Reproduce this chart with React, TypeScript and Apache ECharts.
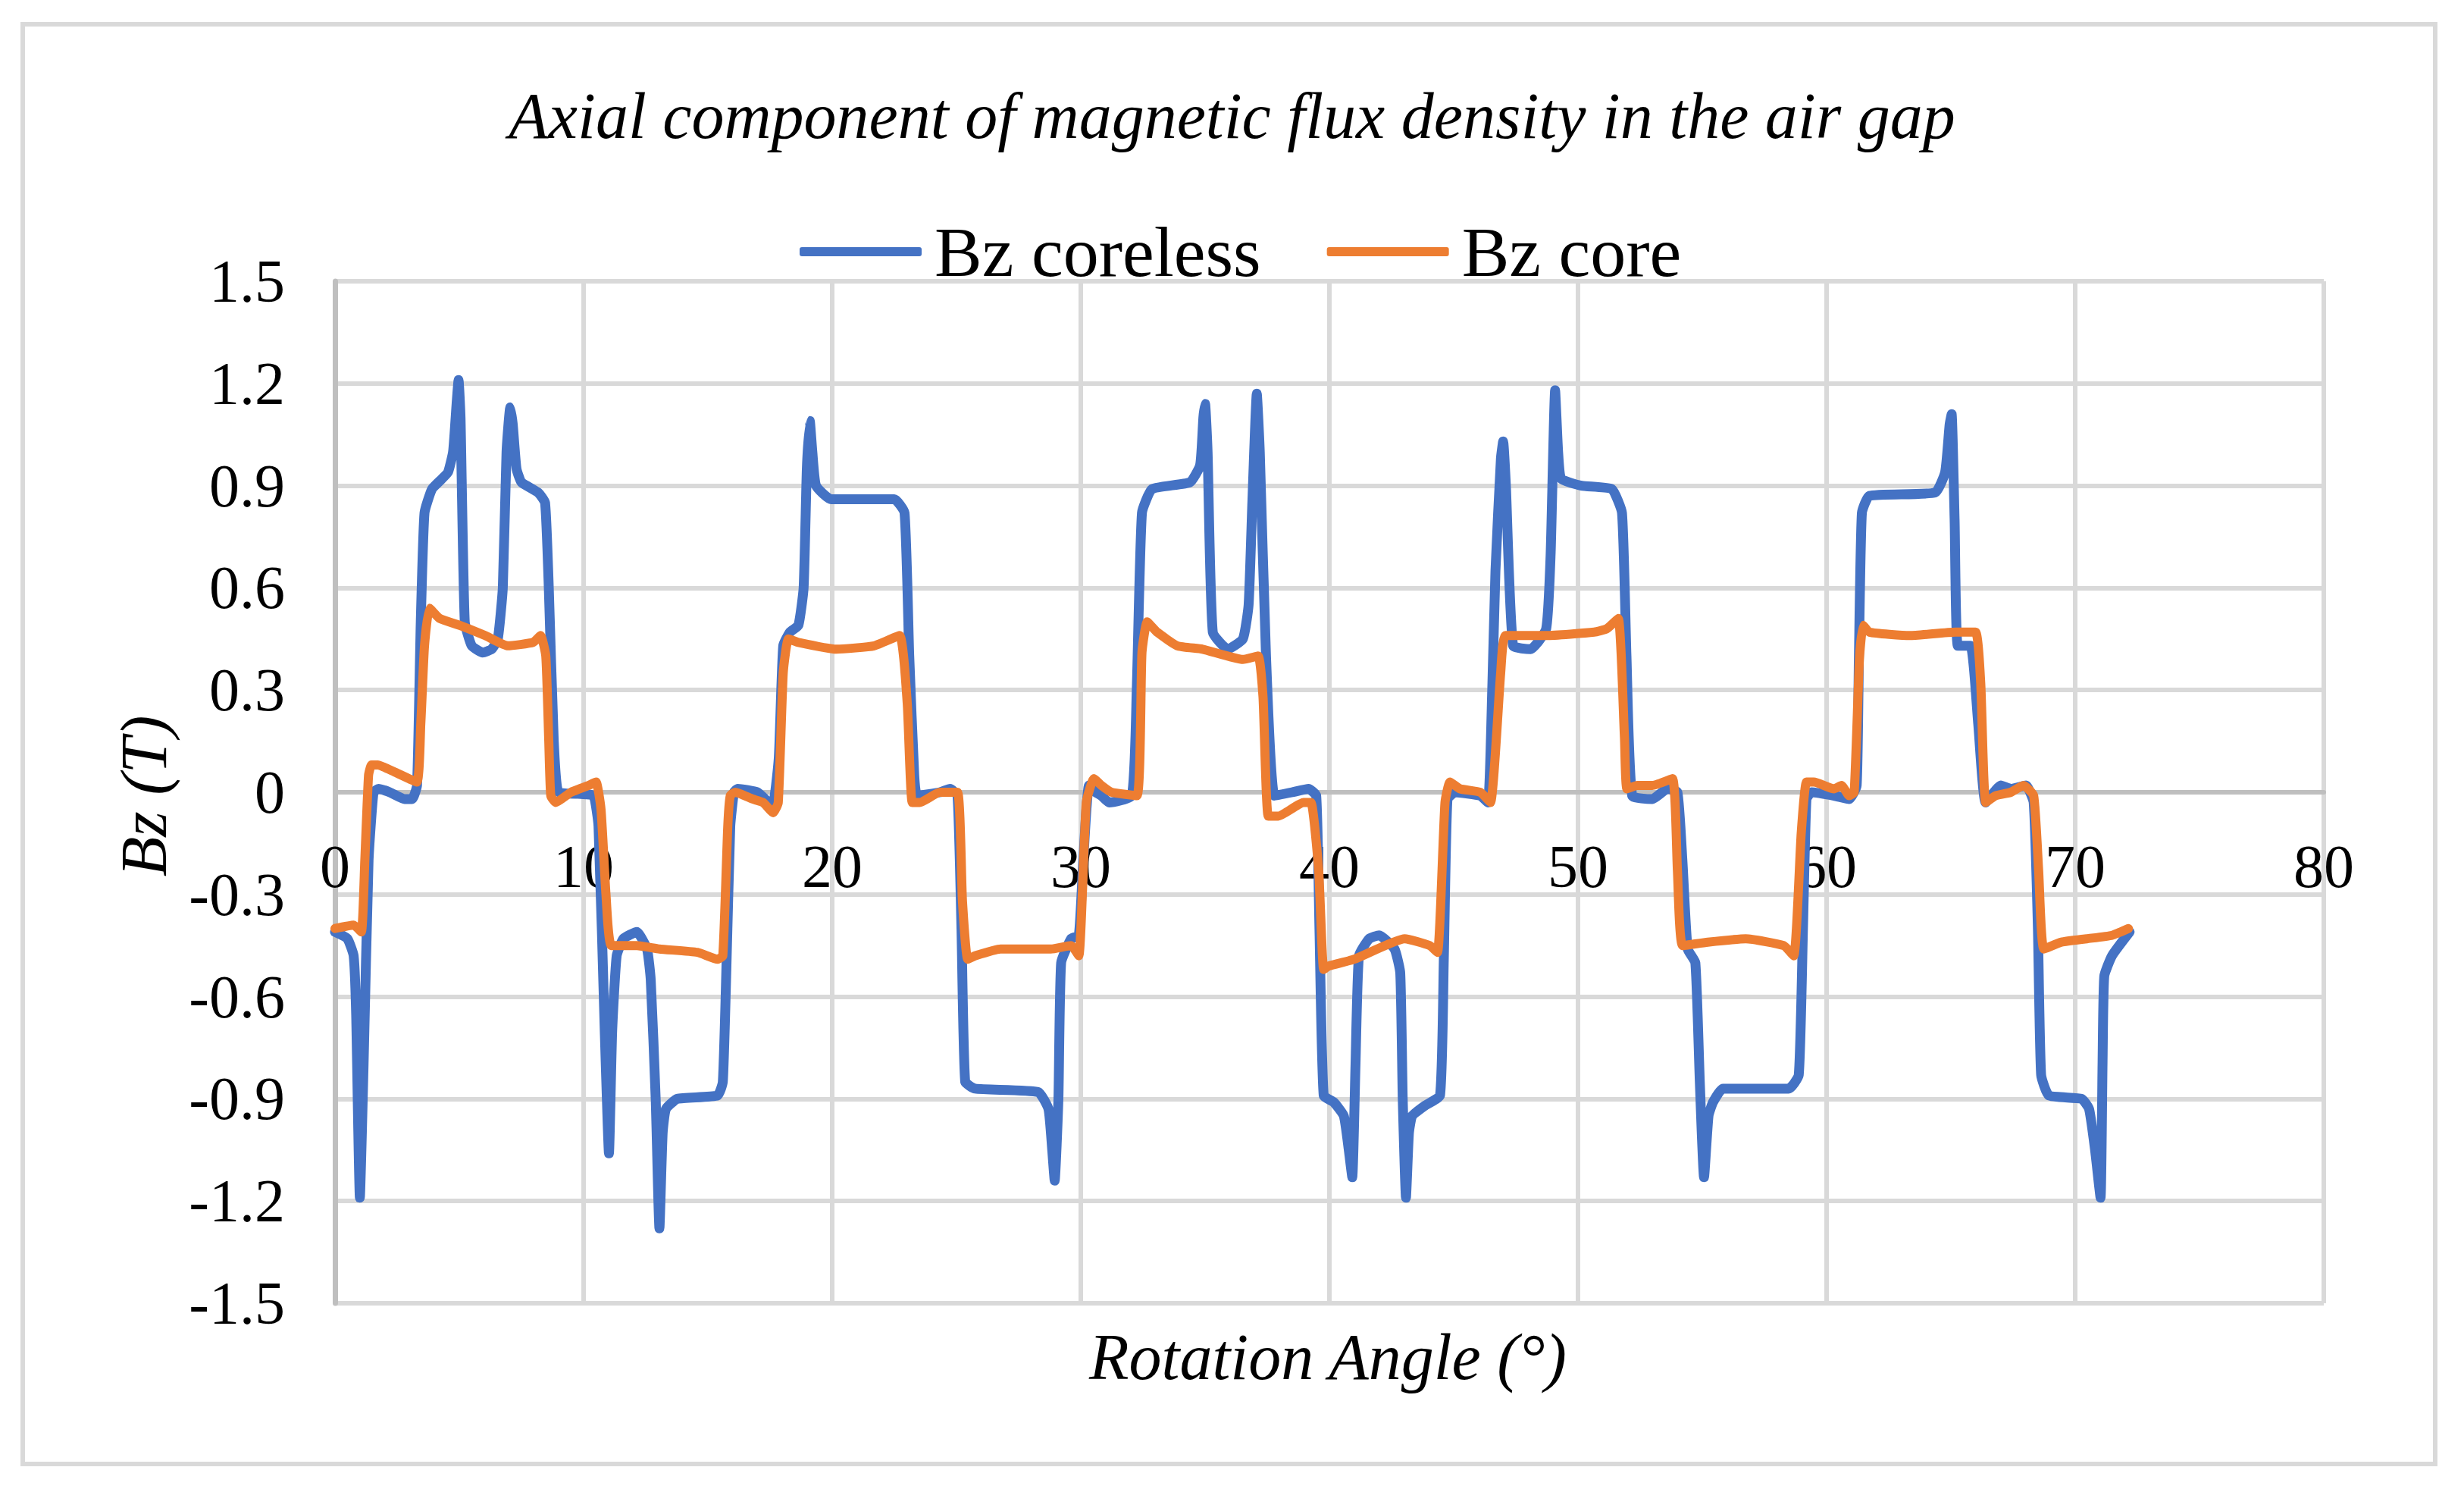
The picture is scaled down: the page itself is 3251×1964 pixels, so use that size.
import React, { useEffect, useRef } from "react";
import * as echarts from "echarts";

const chartTitle = "Axial component of magnetic flux density in the air gap";
const xAxisTitle = "Rotation Angle (°)";
const yAxisTitle = "Bz (T)";
const seriesNames = ["Bz coreless", "Bz core"];

const corelessAngle = [
  0, 0.5, 0.75, 0.85, 1.0, 1.15, 1.35, 1.55, 1.75, 2.2, 2.8, 3.1, 3.3, 3.45, 3.6, 3.9, 4.3, 4.55, 4.75, 4.9, 4.97, 5.05, 5.22, 5.5, 5.94, 6.3, 6.55, 6.75, 6.9, 7.05, 7.15, 7.3, 7.5, 8.17, 8.45, 8.6, 8.8, 9.0, 9.9, 10.4, 10.6, 10.85, 11.02, 11.15, 11.33, 11.6, 12.14,
  12.55, 12.7, 12.9, 13.05, 13.18, 13.31, 13.77, 15.39, 15.6, 15.75, 15.9, 16.05, 16.2, 17.0, 17.3, 17.6, 17.85, 18.03, 18.3, 18.64, 18.85, 18.98, 19.1, 19.2, 19.35, 19.96, 22.5, 22.91, 23.1, 23.3, 23.42, 24.33,
  24.74, 25.04, 25.2, 25.35, 25.75, 28.29, 28.7, 28.85, 28.95, 29.1, 29.21, 29.61, 29.92, 30.1, 30.33, 30.6, 30.83, 31.14, 32.05, 32.25, 32.46, 32.87, 34.39, 34.8, 34.93, 35.0, 35.1, 35.31, 35.91,
  36.52, 36.75, 36.9, 37.08, 37.2, 37.45, 37.79, 38.5, 39.16, 39.47, 39.6, 39.77, 40.18, 40.58, 40.78, 40.92, 41.05, 41.19, 41.6, 42.0, 42.62, 42.85, 42.95, 43.08, 43.2, 43.33, 43.84, 44.45, 44.6, 44.75, 45.06, 46.07, 46.38, 46.55, 46.68, 46.9, 46.99, 47.1, 47.39, 48.1,
  48.72, 48.9, 49.08, 49.2, 49.33, 50.14, 51.36, 51.77, 51.95, 52.18, 52.99, 53.6, 54.0, 54.2, 54.41, 54.72, 54.9, 55.07, 55.25, 55.43, 55.83, 58.48, 58.88, 59.05, 59.19, 59.39, 60.3,
  60.91, 61.21, 61.3, 61.42, 61.72, 64.37, 64.77, 64.95, 65.03, 65.15, 65.28, 65.79, 66.1, 66.4, 67.01, 67.41, 68.02, 68.33, 68.5, 68.63, 68.94, 70.26, 70.56, 70.8, 71.02, 71.1, 71.17, 71.48, 72.19,
];
const corelessBz = [
  -0.41, -0.43, -0.48, -0.65, -1.19, -0.8, -0.2, 0.0, 0.01, 0.0, -0.02, -0.02, 0.02, 0.5, 0.82, 0.89, 0.92, 0.94, 1.0, 1.15, 1.21, 1.1, 0.5, 0.43, 0.41, 0.42, 0.45, 0.6, 1.0, 1.13, 1.08, 0.95, 0.91, 0.88, 0.85, 0.6, 0.15, 0.0, -0.005, -0.01, -0.1, -0.7, -1.06, -0.7, -0.48, -0.43, -0.41,
  -0.46, -0.55, -0.9, -1.28, -1.0, -0.93, -0.9, -0.89, -0.85, -0.5, -0.1, 0.0, 0.01, 0.0, -0.02, -0.04, 0.1, 0.43, 0.47, 0.49, 0.6, 0.95, 1.09, 1.0, 0.9, 0.86, 0.86, 0.82, 0.4, 0.05, -0.01, 0.0,
  0.01, -0.01, -0.4, -0.85, -0.87, -0.88, -0.93, -1.05, -1.14, -0.9, -0.5, -0.43, -0.42, -0.2, 0.02, 0.0, -0.01, -0.03, -0.01, 0.3, 0.82, 0.89, 0.91, 0.96, 1.1, 1.14, 1.0, 0.47, 0.42,
  0.45, 0.55, 0.85, 1.17, 1.0, 0.4, -0.01, 0.0, 0.01, -0.01, -0.4, -0.89, -0.91, -0.95, -1.05, -1.13, -0.8, -0.48, -0.43, -0.42, -0.46, -0.53, -0.9, -1.19, -1.0, -0.95, -0.92, -0.89, -0.5, -0.02, 0.0, -0.01, -0.03, 0.3, 0.65, 0.98, 1.03, 0.9, 0.43, 0.42,
  0.48, 0.7, 1.18, 1.0, 0.92, 0.9, 0.89, 0.82, 0.4, -0.01, -0.02, 0.01, 0.0, -0.2, -0.46, -0.5, -0.85, -1.13, -0.95, -0.91, -0.87, -0.87, -0.83, -0.4, -0.02, 0.0, -0.01,
  -0.02, 0.02, 0.4, 0.82, 0.87, 0.88, 0.94, 1.08, 1.11, 0.8, 0.43, 0.43, 0.2, -0.03, 0.02, 0.01, 0.02, -0.03, -0.4, -0.83, -0.89, -0.9, -0.93, -1.05, -1.19, -0.8, -0.54, -0.48, -0.41,
];

const coreAngle = [
  0, 0.75, 1.06, 1.2, 1.35, 1.47, 1.72, 2.38, 3.29, 3.45, 3.6, 3.8, 4.21, 5.02, 6.04, 6.95, 7.97, 8.27, 8.48, 8.6, 8.68, 8.88, 9.49, 10.2, 10.5, 10.7, 10.9, 11.12, 12.14,
  13.05, 14.58, 15.39, 15.6, 15.8, 15.9, 16.1, 16.8, 17.22, 17.63, 17.83, 18.03, 18.24, 18.64, 20.17, 21.69, 22.71, 23.02, 23.22, 23.52, 24.33,
  25.04, 25.24, 25.45, 25.75, 26.77, 28.8, 29.61, 29.92, 30.22, 30.53, 30.83, 31.24, 32.26, 32.46, 32.67, 33.07, 33.88, 34.9, 36.52,
  37.13, 37.33, 37.54, 37.94, 38.96, 39.26, 39.57, 39.77, 39.98, 41.0, 43.03, 44.04, 44.35, 44.65, 44.85, 45.26, 46.07, 46.48, 46.89, 47.09, 48.72,
  50.65, 51.16, 51.62, 51.87, 51.97, 52.38, 52.99, 53.8, 54.0, 54.21, 55.22, 56.75, 58.27, 58.68, 58.98, 59.19, 59.49, 60.3,
  60.6, 60.91, 61.11, 61.32, 61.47, 61.72, 63.35, 65.18, 65.99, 66.2, 66.4, 66.8, 67.41, 67.92, 68.33, 68.53, 68.74, 69.45, 70.47, 71.48, 72.14,
];
const coreBz = [
  -0.4, -0.39, -0.41, -0.2, 0.05, 0.08, 0.08, 0.06, 0.03, 0.2, 0.43, 0.54, 0.51, 0.49, 0.46, 0.43, 0.44, 0.46, 0.4, 0.15, -0.01, -0.03, 0.0, 0.02, 0.03, -0.05, -0.3, -0.45, -0.45,
  -0.46, -0.47, -0.49, -0.48, -0.1, -0.01, 0.0, -0.02, -0.03, -0.06, -0.03, 0.35, 0.45, 0.44, 0.42, 0.43, 0.46, 0.26, -0.03, -0.03, 0.0,
  0.0, -0.32, -0.49, -0.48, -0.46, -0.46, -0.45, -0.48, -0.03, 0.04, 0.02, 0.0, -0.01, 0.41, 0.5, 0.47, 0.43, 0.42, 0.39,
  0.4, 0.28, -0.07, -0.07, -0.03, -0.03, -0.23, -0.52, -0.51, -0.49, -0.43, -0.45, -0.47, -0.03, 0.03, 0.01, 0.0, -0.03, 0.35, 0.46, 0.46,
  0.47, 0.48, 0.51, 0.16, 0.01, 0.02, 0.02, 0.04, -0.23, -0.45, -0.44, -0.43, -0.45, -0.48, -0.12, 0.03, 0.03, 0.01,
  0.02, -0.01, 0.0, 0.39, 0.49, 0.47, 0.46, 0.47, 0.47, 0.32, -0.03, -0.01, 0.0, 0.02, -0.01, -0.23, -0.46, -0.44, -0.43, -0.42, -0.4,
];

const xMin = 0;
const xMax = 80;
const xStep = 10;
const yMin = -1.5;
const yMax = 1.5;
const yStep = 0.3;

const zip = (xs: number[], ys: number[]) => xs.map((x, i) => [x, ys[i]]);

const FONT = "'Liberation Serif', 'Times New Roman', serif";

// plot area in page pixels
const GRID_TOP = 371;
const GRID_BOTTOM = 245;
const PAGE_H = 1964;
const PLOT_H = PAGE_H - GRID_TOP - GRID_BOTTOM;

export default function App() {
  const ref = useRef<HTMLDivElement>(null);
  useEffect(() => {
    if (!ref.current) return;
    const chart = echarts.init(ref.current, undefined, { renderer: "svg" });
    // x axis crosses the y axis at zero: shift from bottom edge up to y = 0
    const zeroOffset = -PLOT_H * ((0 - yMin) / (yMax - yMin));
    chart.setOption({
      animation: false,
      backgroundColor: "#ffffff",
      textStyle: { fontFamily: FONT },
      title: {
        text: chartTitle,
        left: "center",
        top: 105,
        textStyle: { fontFamily: FONT, fontSize: 86, fontStyle: "italic", fontWeight: "normal", color: "#000" },
      },
      legend: {
        left: 1050,
        top: 280,
        itemWidth: 161,
        itemHeight: 12,
        itemGap: 87,
        icon: "roundRect",
        textStyle: { fontFamily: FONT, fontSize: 94, color: "#000", padding: [0, 0, 0, 12] },
        data: seriesNames,
      },
      grid: { left: 442, right: 185, top: GRID_TOP, bottom: GRID_BOTTOM, containLabel: false },
      xAxis: {
        type: "value",
        min: xMin,
        max: xMax,
        interval: xStep,
        position: "bottom",
        offset: zeroOffset,
        axisLine: { show: true, onZero: false, lineStyle: { color: "#bfbfbf", width: 6 } },
        axisTick: { show: false },
        axisLabel: { fontFamily: FONT, fontSize: 80, color: "#000", margin: 58 },
        splitLine: { show: true, lineStyle: { color: "#d9d9d9", width: 6 } },
      },
      yAxis: {
        type: "value",
        min: yMin,
        max: yMax,
        interval: yStep,
        axisLine: { show: true, onZero: false, lineStyle: { color: "#bfbfbf", width: 7 } },
        axisTick: { show: false },
        axisLabel: {
          fontFamily: FONT,
          fontSize: 80,
          color: "#000",
          margin: 66,
          formatter: (v: number) => String(Number(v.toFixed(1))),
        },
        splitLine: { show: true, lineStyle: { color: "#d9d9d9", width: 6 } },
      },
      graphic: [
        {
          type: "rect",
          shape: { x: 30, y: 32, width: 3183, height: 1899 },
          style: { fill: "none", stroke: "#d9d9d9", lineWidth: 6 },
          silent: true,
          z: -10,
        },
        {
          type: "text",
          x: 1752,
          y: 1790,
          style: {
            text: xAxisTitle,
            fontFamily: FONT,
            fontSize: 86,
            fontStyle: "italic",
            fill: "#000",
            textAlign: "center",
            textVerticalAlign: "middle",
          },
        },
        {
          type: "text",
          x: 190,
          y: 1050,
          rotation: Math.PI / 2,
          style: {
            text: yAxisTitle,
            fontFamily: FONT,
            fontSize: 86,
            fontStyle: "italic",
            fill: "#000",
            textAlign: "center",
            textVerticalAlign: "middle",
          },
        },
      ],
      series: [
        {
          name: seriesNames[0],
          type: "line",
          data: zip(corelessAngle, corelessBz),
          showSymbol: false,
          symbol: "none",
          smooth: 0.15,
          color: "#4472c4",
          lineStyle: { color: "#4472c4", width: 13, cap: "round", join: "round" },
          z: 3,
        },
        {
          name: seriesNames[1],
          type: "line",
          data: zip(coreAngle, coreBz),
          showSymbol: false,
          symbol: "none",
          smooth: 0.15,
          color: "#ed7d31",
          lineStyle: { color: "#ed7d31", width: 12, cap: "round", join: "round" },
          z: 4,
        },
      ],
    });
    return () => chart.dispose();
  }, []);
  return (
    <div
      ref={ref}
      style={{ position: "absolute", left: 0, top: 0, width: 3251, height: 1964, background: "#fff" }}
    />
  );
}
